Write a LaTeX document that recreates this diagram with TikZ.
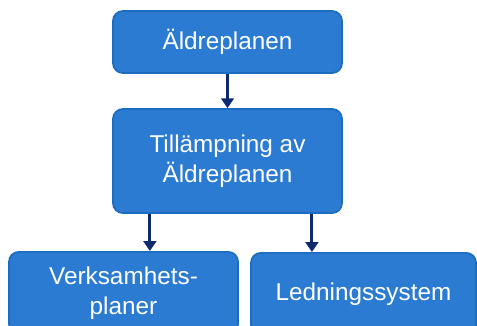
\documentclass[tikz,border=0pt]{standalone}
\usepackage{fontspec}
\setmainfont{Liberation Sans}
\usetikzlibrary{positioning,arrows.meta}

\definecolor{boxblue}{HTML}{2A7BD1}
\definecolor{boxedge}{HTML}{1C6CC0}
\definecolor{arrownavy}{HTML}{0C2A6C}

\begin{document}
\begin{tikzpicture}[x=0.025cm, y=-0.025cm,
  planbox/.style = {fill = boxblue, draw = boxedge, line width = 1.2pt, shape = rectangle, rounded corners = 7pt, minimum width = 5.725cm, text = white, align = center, font = \fontsize{17.3}{21.3}\selectfont, inner sep = 0pt},
  flow/.style = {draw = arrownavy, line width = 2.2pt, -{Triangle[width = 9pt, length = 7pt]}}]
\clip (0,0) rectangle (477,325);
\useasboundingbox (0,0) rectangle (477,325);
\node[planbox, minimum height = 1.55cm] (plan) at (227.5,42) {Äldreplanen};
\node[planbox, minimum height = 2.6cm] (apply) at (227.5,161) {Tillämpning av\\Äldreplanen};
\node[planbox, minimum height = 2.05cm, anchor = north] (ops) at (123.5,251) {Verksamhets-\\planer};
\node[planbox, minimum height = 2.05cm, minimum width = 5.625cm, anchor = north] (mgmt) at (363.5,252) {Ledningssystem};
\draw[flow] (plan.south) -- (apply.north);
\draw[flow] ([xshift = -1.94cm]apply.south) -- ([xshift = -1.94cm]apply.south |- ops.north);
\draw[flow] ([xshift = 2.11cm]apply.south) -- ([xshift = 2.11cm]apply.south |- mgmt.north);
\end{tikzpicture}
\end{document}
